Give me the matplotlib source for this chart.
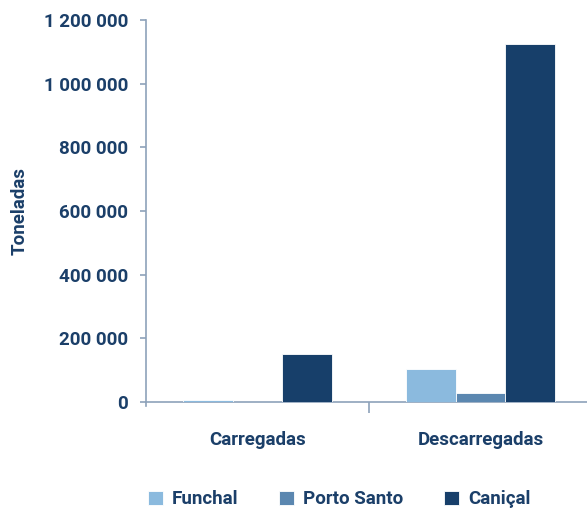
import matplotlib.pyplot as plt
import numpy as np
from matplotlib.ticker import FuncFormatter

plt.rcParams['font.family'] = ['Roboto', 'DejaVu Sans']

categories = ['Carregadas', 'Descarregadas']
series = ['Funchal', 'Porto Santo', 'Caniçal']
funchal = [6000, 104000]
porto_santo = [1500, 29000]
canical = [150000, 1125000]

colors = ['#8bbade', '#5b87b0', '#173f6a']
text_color = '#1b3f69'
axis_color = '#8da2ba'

fig = plt.figure(figsize=(5.87, 5.12), dpi=100)
ax = fig.add_axes([146 / 587, 110 / 512, 446 / 587, 382 / 512])

x = np.arange(len(categories))
width = 0.223
for i, (name, vals) in enumerate(zip(series, [funchal, porto_santo, canical])):
    ax.bar(x + (i - 1) * width, vals, width=width, color=colors[i], label=name,
           edgecolor='white', linewidth=0.6, zorder=3)

ax.set_xlim(-0.5, 1.5)
ax.set_ylim(0, 1200000)
ax.set_yticks(np.arange(0, 1200001, 200000))
ax.yaxis.set_major_formatter(FuncFormatter(lambda v, p: f'{int(v):,}'.replace(',', ' ')))

ax.set_xticks(x)
ax.set_xticklabels(categories)
ax.set_xticks([0.5], minor=True)
ax.tick_params(axis='x', which='major', length=0, pad=21, labelsize=13.5, labelcolor=text_color)
ax.tick_params(axis='x', which='minor', length=8, color=axis_color, width=1.2)
ax.tick_params(axis='y', length=4, color=axis_color, width=1.2, pad=9,
               labelsize=13.5, labelcolor=text_color)
for lab in ax.get_xticklabels() + ax.get_yticklabels():
    lab.set_fontweight('bold')

for s in ['top', 'right']:
    ax.spines[s].set_visible(False)
ax.spines['left'].set_color(axis_color)
ax.spines['bottom'].set_color(axis_color)
ax.spines['left'].set_linewidth(1.2)
ax.spines['bottom'].set_linewidth(1.2)
ax.spines['left'].set_bounds(-12000, 1200000)

ax.set_ylabel('Toneladas', fontsize=13.5, color=text_color, fontweight='bold', labelpad=11)

fig.legend(loc='lower center', bbox_to_anchor=(0.578, -0.026), ncol=3, frameon=False,
           labelcolor=text_color, handlelength=0.8, handleheight=0.8,
           columnspacing=2.15, handletextpad=0.5, prop={'weight': 'bold', 'size': 13.5})

fig.savefig('out.png', dpi=100)
